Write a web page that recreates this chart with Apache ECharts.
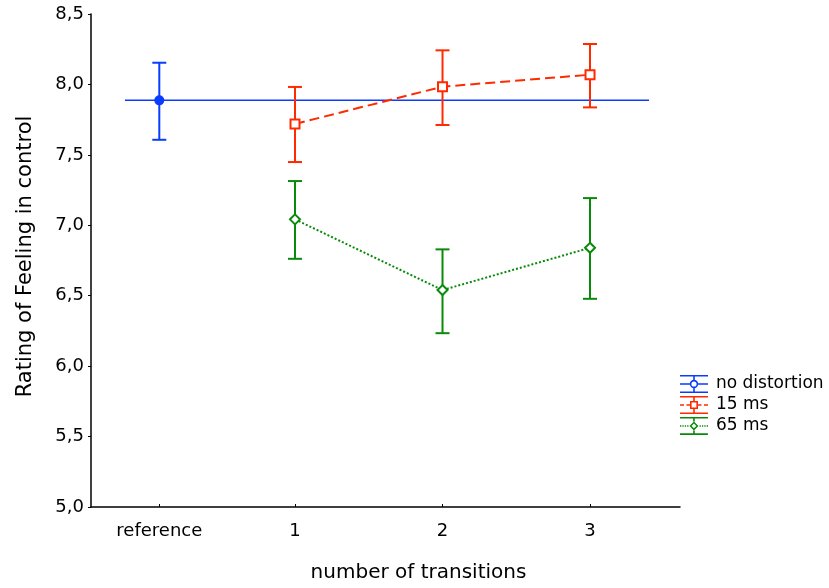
<!DOCTYPE html>
<html>
<head>
<meta charset="utf-8">
<script src="https://cdn.jsdelivr.net/npm/echarts@6/dist/echarts.min.js"></script>
<style>
html,body{margin:0;padding:0;background:#fff;}
#chart{width:829px;height:588px;}
</style>
</head>
<body>
<div id="chart"></div>
<script>
// ---- data ----
const categories = ['reference', '1', '2', '3'];
const categoryPos = [0.08, 1, 2, 3];
const seriesNames = ['no distortion', '15 ms', '65 ms'];

const refMean = 7.887;
const refLow = 7.607;
const refHigh = 8.154;
const refLineX = [-0.153, 3.40];

const ms15Mean = [7.719, 7.984, 8.069];
const ms15Low = [7.449, 7.712, 7.837];
const ms15High = [7.982, 8.242, 8.287];

const ms65Mean = [7.042, 6.540, 6.840];
const ms65Low = [6.762, 6.234, 6.478];
const ms65High = [7.314, 6.829, 7.193];

const yTicks = [5.0, 5.5, 6.0, 6.5, 7.0, 7.5, 8.0, 8.5];

// ---- styling ----
const BLUE = '#0a3cff';
const RED = '#ff2a00';
const GREEN = '#0a8a0a';
const FONT = 'DejaVu Sans';

function errorSeries(name, color, xs, lows, highs) {
  const data = xs.map((x, i) => [x, lows[i], highs[i]]);
  return {
    name: name,
    type: 'custom',
    data: data,
    z: 2,
    silent: true,
    renderItem: function (params, api) {
      const x = api.value(0);
      const pLo = api.coord([x, api.value(1)]);
      const pHi = api.coord([x, api.value(2)]);
      const hw = 7;
      const st = { stroke: color, lineWidth: 2, fill: null };
      return {
        type: 'group',
        children: [
          { type: 'line', shape: { x1: pHi[0], y1: pHi[1], x2: pLo[0], y2: pLo[1] }, style: st },
          { type: 'line', shape: { x1: pHi[0] - hw, y1: pHi[1], x2: pHi[0] + hw, y2: pHi[1] }, style: st },
          { type: 'line', shape: { x1: pLo[0] - hw, y1: pLo[1], x2: pLo[0] + hw, y2: pLo[1] }, style: st }
        ]
      };
    }
  };
}

// legend icon paths (28 x 18 box), holes drawn with opposite winding
function rectCW(x0, y0, x1, y1) { return `M${x0} ${y0}L${x1} ${y0}L${x1} ${y1}L${x0} ${y1}Z`; }
function rectCCW(x0, y0, x1, y1) { return `M${x0} ${y0}L${x0} ${y1}L${x1} ${y1}L${x1} ${y0}Z`; }
const whiskers = rectCW(0, 0, 28, 1.6) + rectCW(0, 16.4, 28, 18);
function vbar(gapTop, gapBottom) { return rectCW(13.2, 0, 14.8, gapTop) + rectCW(13.2, gapBottom, 14.8, 18); }

const iconBlue = 'path://' + whiskers + vbar(5, 13) +
  rectCW(0, 8.3, 10, 9.7) + rectCW(18, 8.3, 28, 9.7) +
  'M18.2 9A4.2 4.2 0 1 1 9.8 9A4.2 4.2 0 1 1 18.2 9Z' +
  'M16.6 9A2.6 2.6 0 1 0 11.4 9A2.6 2.6 0 1 0 16.6 9Z';

const iconRed = 'path://' + whiskers + vbar(5, 13) +
  rectCW(0, 8.3, 4, 9.7) + rectCW(6.5, 8.3, 10, 9.7) +
  rectCW(18, 8.3, 21.5, 9.7) + rectCW(24, 8.3, 28, 9.7) +
  rectCW(10, 5, 18, 13) + rectCCW(11.6, 6.6, 16.4, 11.4);

let dots = '';
[0, 2.4, 4.8, 7.2, 19.6, 22, 24.4, 26.8].forEach(function (d) { dots += rectCW(d, 8.3, d + 1.3, 9.7); });
const iconGreen = 'path://' + whiskers + vbar(4.5, 13.5) + dots +
  'M14 4.5L18.5 9L14 13.5L9.5 9Z' + 'M14 6.6L11.6 9L14 11.4L16.4 9Z';

const chart = echarts.init(document.getElementById('chart'), null, { renderer: 'canvas' });

const option = {
  backgroundColor: '#ffffff',
  animation: false,
  textStyle: { fontFamily: FONT, color: '#000' },
  grid: { left: 91, right: 149, top: 14, bottom: 81, containLabel: false },
  legend: {
    orient: 'vertical',
    left: 680,
    top: 375,
    padding: 0,
    itemWidth: 28,
    itemHeight: 18,
    itemGap: 3,
    selectedMode: false,
    textStyle: { fontFamily: FONT, fontSize: 17, color: '#000', padding: [0, 0, 0, 3] },
    data: [
      { name: seriesNames[0], icon: iconBlue, itemStyle: { color: BLUE, borderWidth: 0 } },
      { name: seriesNames[1], icon: iconRed, itemStyle: { color: RED, borderWidth: 0 } },
      { name: seriesNames[2], icon: iconGreen, itemStyle: { color: GREEN, borderWidth: 0 } }
    ]
  },
  xAxis: {
    type: 'value',
    min: -0.383,
    max: 3.61,
    name: 'number of transitions',
    nameLocation: 'middle',
    nameGap: 56,
    nameTextStyle: { fontFamily: FONT, fontSize: 20, color: '#000', padding: [0, 0, 0, 66] },
    axisLine: { onZero: false, lineStyle: { color: '#000', width: 1.5 } },
    axisTick: { show: true, inside: true, length: 3, customValues: categoryPos, lineStyle: { color: '#000', width: 1 } },
    axisLabel: {
      customValues: categoryPos,
      margin: 15,
      fontFamily: FONT,
      fontSize: 18,
      color: '#000',
      formatter: function (v) {
        for (let i = 0; i < categoryPos.length; i++) {
          if (Math.abs(categoryPos[i] - v) < 1e-6) return categories[i];
        }
        return '';
      }
    },
    splitLine: { show: false }
  },
  yAxis: {
    type: 'value',
    min: yTicks[0],
    max: yTicks[yTicks.length - 1],
    interval: 0.5,
    name: 'Rating of Feeling in control',
    nameLocation: 'middle',
    nameGap: 55,
    nameTextStyle: { fontFamily: FONT, fontSize: 21, color: '#000', padding: [0, 0, 0, 8] },
    axisLine: { show: true, onZero: false, lineStyle: { color: '#000', width: 1.5 } },
    axisTick: { show: true, inside: false, length: 3, lineStyle: { color: '#000', width: 1 } },
    axisLabel: {
      margin: 7,
      fontFamily: FONT,
      fontSize: 18,
      color: '#000',
      formatter: function (v) { return v.toFixed(1).replace('.', ','); }
    },
    splitLine: { show: false }
  },
  series: [
    // no distortion: horizontal reference line + point
    {
      name: seriesNames[0],
      type: 'line',
      data: refLineX.map(function (x) { return [x, refMean]; }),
      showSymbol: false,
      symbol: 'none',
      lineStyle: { color: BLUE, width: 1.5 },
      itemStyle: { color: BLUE },
      z: 1,
      silent: true
    },
    errorSeries(seriesNames[0], BLUE, [categoryPos[0]], [refLow], [refHigh]),
    {
      name: seriesNames[0],
      type: 'scatter',
      data: [[categoryPos[0], refMean]],
      symbol: 'circle',
      symbolSize: 10,
      itemStyle: { color: BLUE, opacity: 1 },
      z: 5,
      silent: true
    },
    // 15 ms
    errorSeries(seriesNames[1], RED, categoryPos.slice(1), ms15Low, ms15High),
    {
      name: seriesNames[1],
      type: 'line',
      data: categoryPos.slice(1).map(function (x, i) { return [x, ms15Mean[i]]; }),
      symbol: 'rect',
      symbolSize: 9,
      showSymbol: true,
      lineStyle: { color: RED, width: 2, type: [10, 5] },
      itemStyle: { color: '#fff', borderColor: RED, borderWidth: 2 },
      z: 5,
      silent: true
    },
    // 65 ms
    errorSeries(seriesNames[2], GREEN, categoryPos.slice(1), ms65Low, ms65High),
    {
      name: seriesNames[2],
      type: 'line',
      data: categoryPos.slice(1).map(function (x, i) { return [x, ms65Mean[i]]; }),
      symbol: 'diamond',
      symbolSize: 10,
      showSymbol: true,
      lineStyle: { color: GREEN, width: 2, type: [2, 2] },
      itemStyle: { color: '#fff', borderColor: GREEN, borderWidth: 2 },
      z: 5,
      silent: true
    }
  ]
};

chart.setOption(option);
</script>
</body>
</html>
